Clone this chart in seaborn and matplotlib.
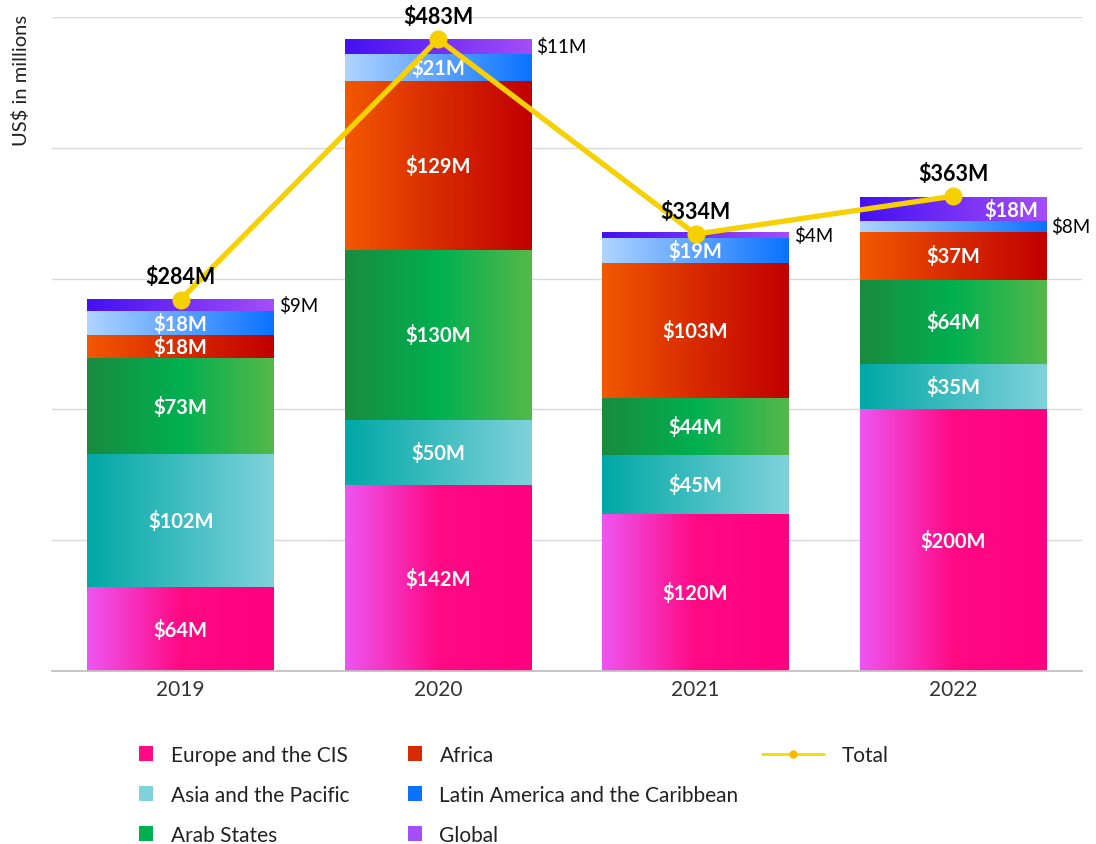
import numpy as np
import matplotlib.pyplot as plt
import pandas as pd
import seaborn as sns
from matplotlib.colors import LinearSegmentedColormap
from matplotlib.patches import Patch
from matplotlib.lines import Line2D

# Data
years = ['2019', '2020', '2021', '2022']
europe = [64, 142, 120, 200]
asia = [102, 50, 45, 35]
arab = [73, 130, 44, 64]
africa = [18, 129, 103, 37]
latin = [18, 21, 19, 8]
global_ = [9, 11, 4, 18]
total = [284, 483, 334, 363]

series = [
    ('Europe and the CIS', europe, ['#EE55F2', '#FF0A84', '#FF0080']),
    ('Asia and the Pacific', asia, ['#00A8A6', '#80D2DA']),
    ('Arab States', arab, ['#1A8B3F', '#00B050', '#55B84A']),
    ('Africa', africa, ['#F25800', '#D82A00', '#C00000']),
    ('Latin America and the Caribbean', latin, ['#B0D4FF', '#0A72FF']),
    ('Global', global_, ['#4410F2', '#A44EF8']),
]

sns.set_theme(style='white')
plt.rcParams['font.family'] = ['Lato', 'DejaVu Sans']

fig = plt.figure(figsize=(10.96, 8.45), dpi=100)
ax = fig.add_axes([0.0474, 0.2047, 0.9396, 0.774])

width = 0.724
bottom = np.zeros(len(years))
grad = np.linspace(0, 1, 256).reshape(1, -1)
for name, vals, cols in series:
    sns.barplot(x=years, y=vals, bottom=bottom, width=width, color='white',
                errorbar=None, ax=ax, linewidth=0)
    cmap = LinearSegmentedColormap.from_list(name, cols)
    for i, v in enumerate(vals):
        y0, y1 = bottom[i], bottom[i] + v
        ax.imshow(grad, cmap=cmap, aspect='auto', zorder=2,
                  extent=[i - width / 2, i + width / 2, y0, y1])
        yc = (y0 + y1) / 2
        if v < 12:
            ax.text(i + width / 2 + 0.02, yc, f'${v}M', ha='left', va='center',
                    fontsize=13.5, color='black', zorder=5)
        elif name == 'Global':
            ax.text(i + width / 2 - 0.03, yc, f'${v}M', ha='right', va='center',
                    fontsize=14.5, fontweight='bold', color='white', zorder=5)
        else:
            ax.text(i, yc, f'${v}M', ha='center', va='center',
                    fontsize=14.5, fontweight='bold', color='white', zorder=5)
    bottom = bottom + np.array(vals)

# Total line
sns.lineplot(x=np.arange(len(years)), y=total, color='#F6D000', linewidth=3.8,
             marker='o', markersize=13, markeredgewidth=0, ax=ax, zorder=6)
for i, t in enumerate(total):
    ax.annotate(f'${t}M', (i, t), xytext=(0, 9), textcoords='offset points',
                ha='center', va='bottom', fontsize=15.5, fontweight='bold',
                color='black', zorder=7)

ax.set_xlim(-0.5, 3.5)
ax.set_ylim(0, 500)
ax.set_yticks([0, 100, 200, 300, 400, 500])
ax.set_yticklabels([])
ax.tick_params(axis='y', length=0)
ax.tick_params(axis='x', length=0, labelsize=15, labelcolor='#333333', pad=6)
ax.set_xticks(range(len(years)))
ax.set_xticklabels(years)
ax.grid(True, axis='y', color='#D9D9D9', linewidth=1)
ax.set_axisbelow(True)
for s in ['top', 'right', 'left']:
    ax.spines[s].set_visible(False)
ax.spines['bottom'].set_color('#BFBFBF')
ax.set_ylabel('US$ in millions', fontsize=14.5, color='#222222', loc='top')
ax.yaxis.set_label_coords(-0.0214, 1.005)

# Legends (three columns)
mid = {name: cols[len(cols) // 2] for name, _, cols in series}
handles = [Patch(facecolor=mid[name], edgecolor='none', label=name) for name, _, _ in series]
kw = dict(frameon=False, fontsize=15, handlelength=0.67, handleheight=0.67,
          handletextpad=0.85, labelspacing=0.96, loc='upper left', labelcolor='#222222')
ytop = 0.1396
fig.legend(handles=handles[:3], **kw).set_bbox_to_anchor((0.110, ytop), transform=fig.transFigure)
fig.legend(handles=handles[3:], **kw).set_bbox_to_anchor((0.355, ytop), transform=fig.transFigure)
tot_h = Line2D([0], [0], color='#F5DC00', linewidth=2, marker='o', markersize=6,
               markerfacecolor='#FFB800', markeredgewidth=0, label='Total')
kw3 = dict(kw, handlelength=3.0)
fig.legend(handles=[tot_h], **kw3).set_bbox_to_anchor((0.678, ytop), transform=fig.transFigure)

fig.savefig('out.png', dpi=100)
